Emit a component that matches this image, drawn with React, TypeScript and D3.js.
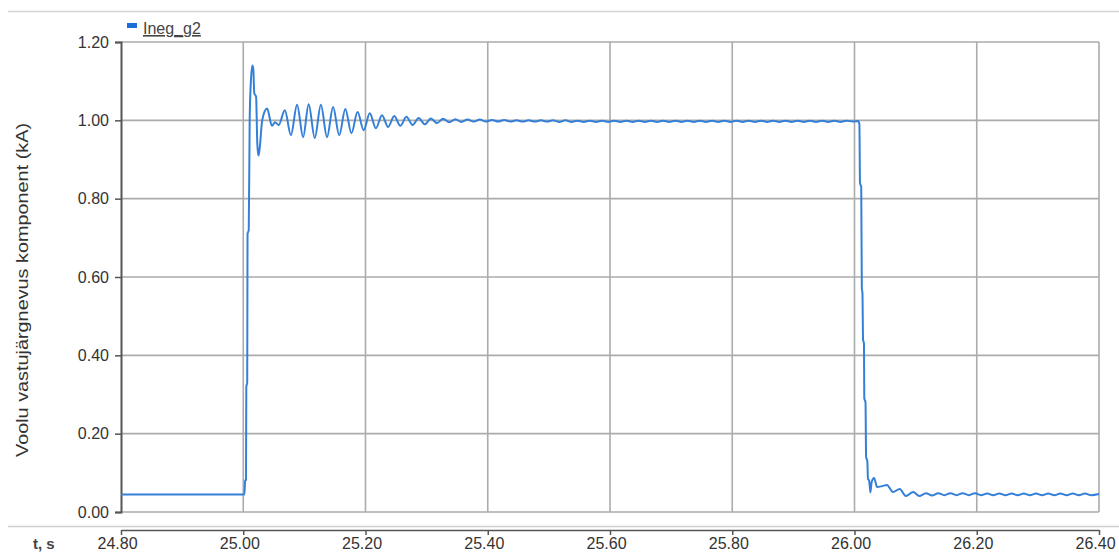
import { useEffect, useRef } from "react";
import * as d3 from "d3";

// series + axes
const seriesName = "Ineg_g2";
const yLabel = "Voolu vastujärgnevus komponent (kA)";
const xLabel = "t, s";
const xTicks = [24.8, 25.0, 25.2, 25.4, 25.6, 25.8, 26.0, 26.2, 26.4];
const yTicks = [0, 0.2, 0.4, 0.6, 0.8, 1.0, 1.2];

// [t (s), I (kA)]
const preFault: [number, number][] = [
  [24.8, 0.045], [25.002, 0.045],
];
const onset: [number, number][] = [
  [25.003, 0.08], [25.0045, 0.082], [25.005, 0.32], [25.0065, 0.33],
  [25.007, 0.71], [25.009, 0.72], [25.0105, 1.0], [25.0125, 1.1],
  [25.015, 1.14], [25.0165, 1.13], [25.018, 1.07], [25.021, 1.06],
  [25.023, 0.94], [25.025, 0.91], [25.027, 0.93], [25.031, 1.0],
  [25.039, 1.03], [25.047, 0.986], [25.052, 0.995], [25.058, 0.988],
];
const ringing: [number, number][] = [
  [25.068, 1.026], [25.078, 0.962], [25.088, 1.04], [25.098, 0.957],
  [25.107, 1.041], [25.117, 0.955], [25.127, 1.04], [25.137, 0.957],
  [25.147, 1.034], [25.157, 0.962], [25.167, 1.029], [25.177, 0.967],
  [25.187, 1.021], [25.197, 0.975], [25.207, 1.018], [25.217, 0.98],
  [25.227, 1.013], [25.237, 0.983], [25.247, 1.011], [25.257, 0.986],
  [25.267, 1.009], [25.277, 0.988], [25.287, 1.006], [25.297, 0.99],
  [25.307, 1.005], [25.317, 0.993], [25.327, 1.004], [25.337, 0.995],
  [25.347, 1.003], [25.357, 0.996], [25.367, 1.002], [25.377, 0.997],
  [25.387, 1.002], [25.397, 0.997], [25.407, 1.001], [25.417, 0.997],
  [25.427, 1.001], [25.437, 0.997],
];
const steady: [number, number][] = [
  [25.447, 1.0], [25.457, 0.997], [25.467, 1.0], [25.477, 0.997],
  [25.487, 1.0], [25.497, 0.997], [25.507, 1.0], [25.517, 0.996],
  [25.527, 1.0], [25.537, 0.996], [25.547, 0.999], [25.557, 0.996],
  [25.567, 0.999], [25.577, 0.996], [25.587, 0.999], [25.597, 0.996],
  [25.607, 0.999], [25.617, 0.996], [25.627, 0.999], [25.637, 0.996],
  [25.647, 0.999], [25.657, 0.996], [25.667, 0.999], [25.677, 0.996],
  [25.687, 0.999], [25.697, 0.996], [25.707, 0.999], [25.717, 0.996],
  [25.727, 0.999], [25.737, 0.996], [25.747, 0.999], [25.757, 0.996],
  [25.767, 0.999], [25.777, 0.996], [25.787, 0.999], [25.797, 0.996],
  [25.807, 0.999], [25.817, 0.996], [25.827, 0.999], [25.837, 0.996],
  [25.847, 0.999], [25.857, 0.996], [25.867, 0.999], [25.877, 0.996],
  [25.887, 0.999], [25.897, 0.996], [25.907, 0.999], [25.917, 0.996],
  [25.927, 0.999], [25.937, 0.996], [25.947, 0.999], [25.957, 0.996],
  [25.967, 0.999], [25.977, 0.996], [25.987, 0.999], [25.997, 0.997],
  [26.006, 0.998],
];
const clearing: [number, number][] = [
  [26.008, 0.99], [26.009, 0.84], [26.011, 0.83], [26.012, 0.57],
  [26.013, 0.56], [26.014, 0.44], [26.0155, 0.43], [26.016, 0.29],
  [26.018, 0.28], [26.019, 0.14], [26.021, 0.13], [26.022, 0.085],
  [26.024, 0.08], [26.026, 0.05], [26.028, 0.076], [26.032, 0.087],
  [26.037, 0.064], [26.045, 0.066], [26.053, 0.069], [26.063, 0.051],
  [26.074, 0.059], [26.084, 0.041], [26.096, 0.051], [26.106, 0.041],
  [26.117, 0.048],
];
const tail: [number, number][] = [
  [26.127, 0.042], [26.137, 0.048], [26.147, 0.043], [26.157, 0.048],
  [26.167, 0.043], [26.177, 0.048], [26.187, 0.043], [26.197, 0.048],
  [26.207, 0.043], [26.217, 0.047], [26.227, 0.043], [26.237, 0.047],
  [26.247, 0.043], [26.257, 0.047], [26.267, 0.043], [26.277, 0.047],
  [26.287, 0.043], [26.297, 0.047], [26.307, 0.043], [26.317, 0.047],
  [26.327, 0.043], [26.337, 0.047], [26.347, 0.043], [26.357, 0.047],
  [26.367, 0.043], [26.377, 0.047], [26.387, 0.043], [26.4, 0.046],
];

const W = 1119;
const H = 555;
const plot = { left: 121, right: 1099, top: 42, bottom: 512 };
const font = "'Liberation Sans', Arial, sans-serif";

export default function App() {
  const ref = useRef<SVGSVGElement>(null);

  useEffect(() => {
    const svg = d3.select(ref.current);
    svg.selectAll("*").remove();

    const data = [...preFault, ...onset, ...ringing, ...steady, ...clearing, ...tail];

    const x = d3.scaleLinear().domain([24.8, 26.4]).range([plot.left, plot.right]);
    const y = d3.scaleLinear().domain([0, 1.2]).range([plot.bottom, plot.top]);

    svg.append("rect").attr("width", W).attr("height", H).attr("fill", "#fff");

    // top separator line
    svg.append("line")
      .attr("x1", 8).attr("x2", W).attr("y1", 11.5).attr("y2", 11.5)
      .attr("stroke", "#d4d4d4").attr("stroke-width", 1.5);

    // grid
    const grid = svg.append("g").attr("stroke", "#ababab").attr("stroke-width", 1.6);
    grid.selectAll("line.v")
      .data(xTicks.slice(1))
      .enter()
      .append("line")
      .attr("x1", (d) => x(d)).attr("x2", (d) => x(d))
      .attr("y1", plot.top).attr("y2", plot.bottom);
    grid.selectAll("line.h")
      .data(yTicks)
      .enter()
      .append("line")
      .attr("x1", plot.left).attr("x2", plot.right)
      .attr("y1", (d) => y(d)).attr("y2", (d) => y(d));

    // y axis
    const yAxis = svg.append("g")
      .attr("transform", `translate(${plot.left},0)`)
      .call(d3.axisLeft(y).tickValues(yTicks).tickFormat(d3.format(".2f")).tickSize(6).tickPadding(6));
    yAxis.select(".domain").attr("stroke", "#555").attr("stroke-width", 2);
    yAxis.selectAll(".tick line").attr("stroke", "#555").attr("stroke-width", 1.5);
    yAxis.selectAll(".tick text")
      .attr("font-family", font).attr("font-size", 16).attr("fill", "#333");

    // x axis strip
    svg.append("line")
      .attr("x1", 8).attr("x2", W).attr("y1", 526.5).attr("y2", 526.5)
      .attr("stroke", "#d0d0d0").attr("stroke-width", 1.5);
    const xAxis = svg.append("g")
      .attr("transform", "translate(0,530)")
      .call(d3.axisBottom(x).tickValues(xTicks).tickFormat(d3.format(".2f")).tickSize(5).tickSizeOuter(0).tickPadding(3));
    xAxis.select(".domain").attr("stroke", "#555").attr("stroke-width", 1.5);
    xAxis.selectAll(".tick line").attr("stroke", "#555").attr("stroke-width", 1.5);
    xAxis.selectAll(".tick text")
      .attr("font-family", font).attr("font-size", 16).attr("fill", "#333")
      .attr("dx", -4);

    svg.append("text")
      .attr("x", 33).attr("y", 549)
      .attr("font-family", font).attr("font-size", 15).attr("font-weight", "bold")
      .attr("fill", "#444")
      .text(xLabel);

    // y label
    svg.append("text")
      .attr("transform", `translate(28,290) rotate(-90)`)
      .attr("text-anchor", "middle")
      .attr("font-family", font).attr("font-size", 17).attr("fill", "#333")
      .attr("textLength", 334).attr("lengthAdjust", "spacingAndGlyphs")
      .text(yLabel);

    // series
    const line = d3.line<[number, number]>()
      .x((d) => x(d[0]))
      .y((d) => y(d[1]))
      .curve(d3.curveMonotoneX);
    svg.append("path")
      .datum(data)
      .attr("fill", "none")
      .attr("stroke", "#3480d8")
      .attr("stroke-width", 2)
      .attr("stroke-linejoin", "round")
      .attr("d", line);

    // legend
    svg.append("rect")
      .attr("x", 127).attr("y", 23).attr("width", 10).attr("height", 5)
      .attr("fill", "#1a6ed8");
    svg.append("text")
      .attr("x", 143).attr("y", 34)
      .attr("font-family", font).attr("font-size", 16).attr("fill", "#444")
      .attr("text-decoration", "underline")
      .text(seriesName);
  }, []);

  return (
    <svg
      ref={ref}
      width={W}
      height={H}
      style={{ position: "absolute", left: 0, top: 0 }}
    />
  );
}
